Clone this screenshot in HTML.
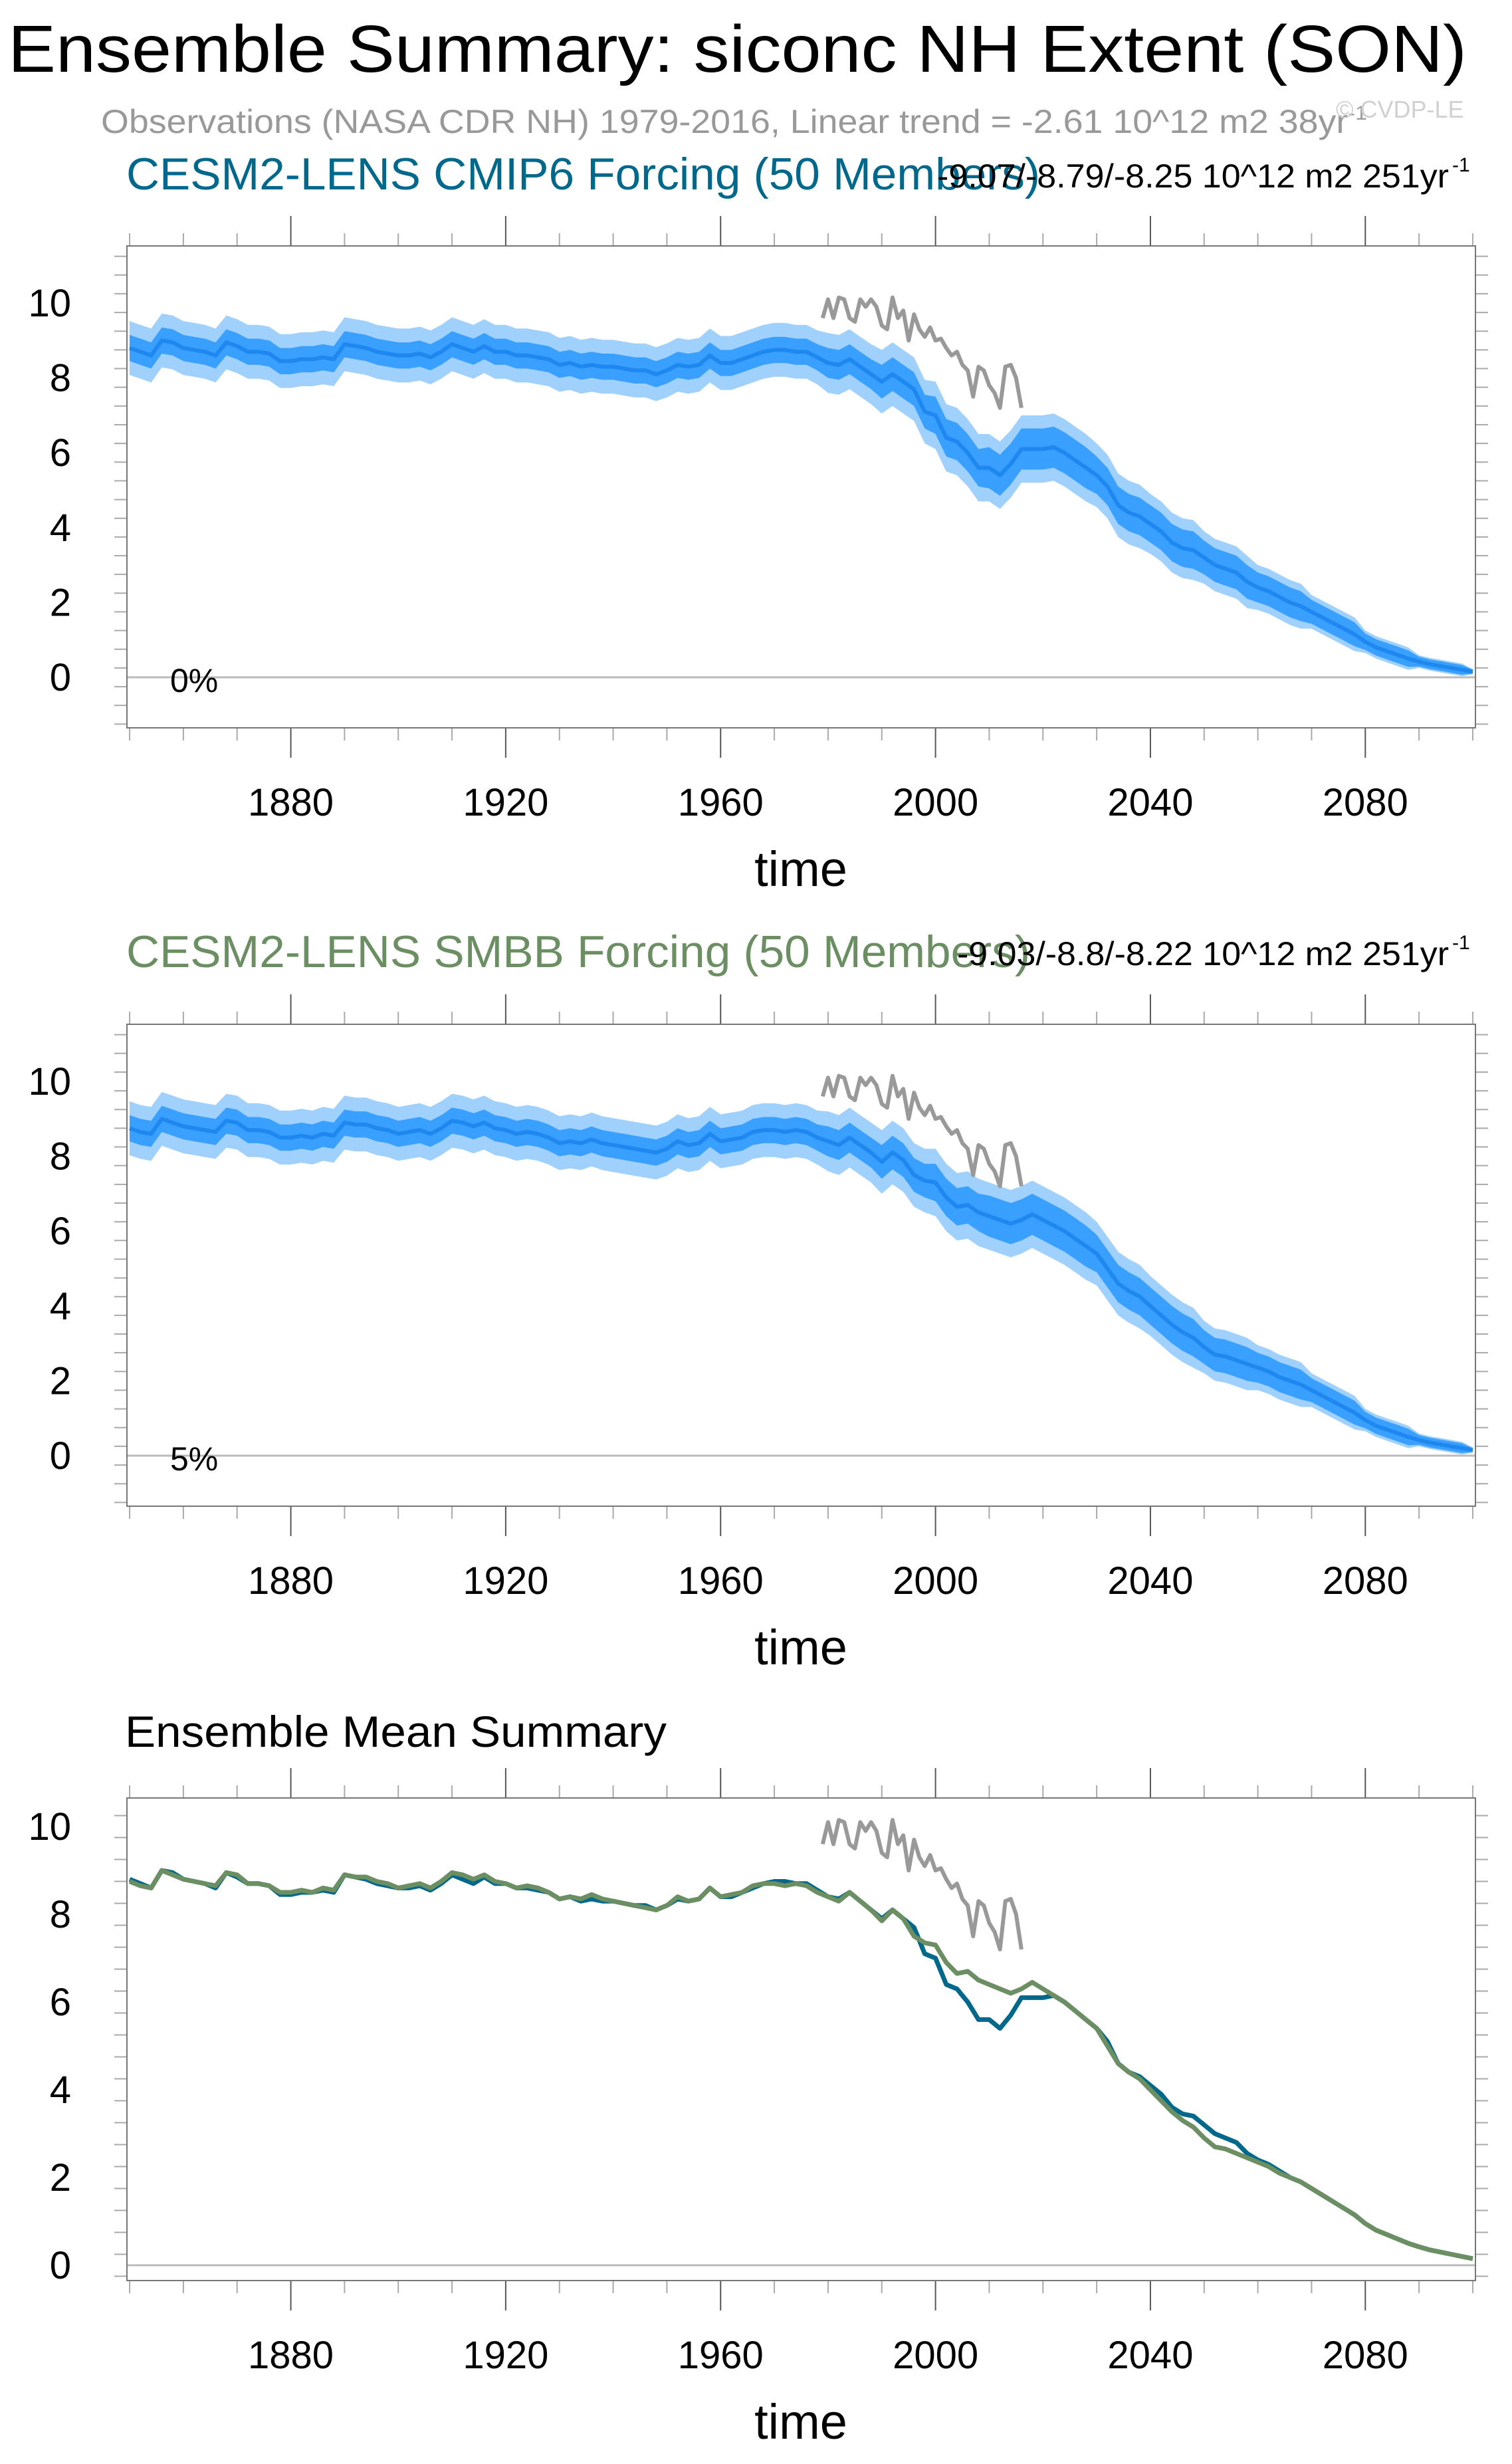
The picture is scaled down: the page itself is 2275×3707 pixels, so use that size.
<!DOCTYPE html>
<html><head><meta charset="utf-8">
<style>
html,body{margin:0;padding:0;background:#fff;}
svg{display:block;font-family:"Liberation Sans",sans-serif;}
</style></head>
<body>
<svg id="chart" width="2275" height="3707" viewBox="0 0 2275 3707" xmlns="http://www.w3.org/2000/svg">
<text x="12" y="108" font-size="100" textLength="2195" lengthAdjust="spacingAndGlyphs">Ensemble Summary: siconc NH Extent (SON)</text>
<text x="152" y="200" font-size="50" fill="#999" textLength="1905" lengthAdjust="spacingAndGlyphs">Observations (NASA CDR NH) 1979-2016, Linear trend = -2.61 10^12 m2 38yr<tspan dy="-20" font-size="30">-1</tspan></text>
<text x="2010" y="177" font-size="36" fill="#d0d0d0">© CVDP-LE</text>
<text x="190" y="285" font-size="68" fill="#00688b" textLength="1375" lengthAdjust="spacingAndGlyphs">CESM2-LENS CMIP6 Forcing (50 Members)</text>
<text x="1410" y="282" font-size="50" textLength="770" lengthAdjust="spacingAndGlyphs">-9.07/-8.79/-8.25 10^12 m2 251yr</text>
<text x="2185" y="258" font-size="30">-1</text>
<text x="190" y="1455" font-size="68" fill="#6b8e63" textLength="1360" lengthAdjust="spacingAndGlyphs">CESM2-LENS SMBB Forcing (50 Members)</text>
<text x="1440" y="1452" font-size="50" textLength="740" lengthAdjust="spacingAndGlyphs">-9.03/-8.8/-8.22 10^12 m2 251yr</text>
<text x="2185" y="1428" font-size="30">-1</text>
<text x="188" y="2628" font-size="66" textLength="815" lengthAdjust="spacingAndGlyphs">Ensemble Mean Summary</text>
<g id="panels"></g>
</svg>
<script>
const years2 = [];
for (let y = 1850; y <= 2100; y += 2) years2.push(y);
const cmip6Mean = [8.8,8.7,8.6,9.0,8.95,8.8,8.75,8.7,8.6,8.95,8.85,8.7,8.7,8.65,8.45,8.45,8.5,8.5,8.55,8.5,8.9,8.85,8.8,8.7,8.65,8.6,8.6,8.65,8.55,8.7,8.9,8.8,8.7,8.85,8.7,8.7,8.6,8.6,8.55,8.5,8.35,8.4,8.3,8.35,8.3,8.3,8.25,8.2,8.2,8.1,8.2,8.35,8.3,8.35,8.6,8.4,8.4,8.5,8.6,8.7,8.75,8.75,8.7,8.7,8.55,8.4,8.35,8.5,8.3,8.1,7.9,8.1,7.9,7.7,7.1,7.0,6.4,6.3,6.0,5.6,5.6,5.4,5.7,6.1,6.1,6.1,6.15,6.0,5.8,5.6,5.4,5.1,4.6,4.4,4.3,4.1,3.9,3.6,3.45,3.4,3.2,3.0,2.9,2.8,2.55,2.4,2.3,2.15,2.0,1.9,1.75,1.6,1.45,1.3,1.15,0.95,0.8,0.7,0.6,0.5,0.42,0.35,0.3,0.25,0.2,0.15];
const smbbMean = [8.75,8.65,8.6,9.0,8.9,8.8,8.75,8.7,8.65,8.95,8.9,8.7,8.7,8.65,8.5,8.5,8.55,8.5,8.6,8.55,8.9,8.85,8.85,8.75,8.7,8.6,8.65,8.7,8.6,8.75,8.95,8.9,8.8,8.9,8.75,8.7,8.6,8.65,8.6,8.5,8.35,8.4,8.35,8.45,8.35,8.3,8.25,8.2,8.15,8.1,8.2,8.4,8.3,8.35,8.6,8.4,8.45,8.5,8.65,8.7,8.7,8.65,8.7,8.65,8.5,8.4,8.3,8.5,8.3,8.1,7.85,8.1,7.9,7.5,7.35,7.3,6.9,6.65,6.7,6.5,6.4,6.3,6.2,6.3,6.45,6.3,6.15,6.0,5.8,5.6,5.4,5.0,4.6,4.4,4.25,4.0,3.75,3.5,3.3,3.15,2.9,2.7,2.65,2.55,2.45,2.35,2.25,2.1,2.0,1.9,1.75,1.6,1.45,1.3,1.15,0.95,0.8,0.7,0.6,0.5,0.42,0.35,0.3,0.25,0.2,0.15];
const obsYears = [];
for (let y = 1979; y <= 2016; y++) obsYears.push(y);
const obsValues = [9.6,10.1,9.6,10.15,10.1,9.6,9.5,10.1,9.9,10.1,9.9,9.4,9.3,10.15,9.6,9.8,9.0,9.7,9.3,9.1,9.35,9.0,9.05,8.8,8.6,8.7,8.35,8.2,7.5,8.3,8.2,7.8,7.6,7.2,8.3,8.35,8.0,7.2];
// per-decade ensemble spread (half-widths), 1850..2100
const innerSpread = [0.35,0.35,0.35,0.35,0.35,0.35,0.35,0.35,0.35,0.35,0.35,0.35,0.35,0.4,0.45,0.5,0.55,0.55,0.5,0.5,0.45,0.4,0.32,0.22,0.13,0.05];
const outerSpread = [0.72,0.72,0.72,0.72,0.72,0.72,0.72,0.72,0.72,0.72,0.72,0.72,0.72,0.8,0.85,0.9,0.9,0.9,0.85,0.8,0.7,0.6,0.45,0.3,0.17,0.07];
const xTickYears = [1880,1920,1960,2000,2040,2080];
const yTickValues = [0,2,4,6,8,10];

const NS = 'http://www.w3.org/2000/svg';
const root = document.getElementById('panels');
const X0 = 191, X1 = 2220, YMIN = 1849.5, YMAX = 2100.5;
function xs(yr){ return X0 + (yr - YMIN) / (YMAX - YMIN) * (X1 - X0); }
function mk(tag, attrs, parent){ const e = document.createElementNS(NS, tag); for (const k in attrs) e.setAttribute(k, attrs[k]); (parent||root).appendChild(e); return e; }

const panels = [
 {top:370, bot:1095, y0:1019, unit:56.3, vmin:-1.35, vmax:11.5, kind:'band', mean:cmip6Mean, label:'0%', name:'cmip6'},
 {top:1541, bot:2266, y0:2190, unit:56.3, vmin:-1.35, vmax:11.5, kind:'band', mean:smbbMean, label:'5%', name:'smbb'},
 {top:2705, bot:3431, y0:3408, unit:66, vmin:-0.35, vmax:10.65, kind:'mean', name:'mean-summary'}
];

panels.forEach(p => {
  const g = mk('g', {});
  
  
  const ys = v => p.y0 - v * p.unit;
  for (let v = Math.ceil(p.vmin*4)/4; v <= p.vmax; v += 0.5) {
    const major = Math.abs(v % 2) < 1e-6;
    const len = major ? 45 : 19;
    const c = major ? '#555' : '#aaa';
    mk('line', {x1:X0-len, x2:X0, y1:ys(v), y2:ys(v), stroke:c, 'stroke-width':2}, g);
    mk('line', {x1:X1, x2:X1+len, y1:ys(v), y2:ys(v), stroke:c, 'stroke-width':2}, g);
  }
  yTickValues.forEach(v => {
    const t = mk('text', {x:107, y:ys(v)+20, 'font-size':58, 'text-anchor':'end'}, g);
    
    
    t.textContent = v;
  });
  for (let yr = 1850; yr <= 2100; yr += 10) {
    const major = xTickYears.includes(yr);
    const len = major ? 45 : 19;
    const c = major ? '#555' : '#aaa';
    mk('line', {x1:xs(yr), x2:xs(yr), y1:p.bot, y2:p.bot+len, stroke:c, 'stroke-width':2}, g);
    mk('line', {x1:xs(yr), x2:xs(yr), y1:p.top-len, y2:p.top, stroke:c, 'stroke-width':2}, g);
  }
  xTickYears.forEach(yr => {
    const t = mk('text', {x:xs(yr), y:p.bot+132, 'font-size':58, 'text-anchor':'middle'}, g);
    
    
    t.textContent = yr;
  });
  const xt = mk('text', {x:1205, y:p.bot+238, 'font-size':74, 'text-anchor':'middle'}, g);
  
  
  xt.textContent = 'time';
  const zl = mk('line', {x1:X0, x2:X1, y1:ys(0), y2:ys(0), stroke:'#bbb', 'stroke-width':3}, g);
  
  

  const path = arr => arr.map((v,i) => (i? 'L':'M') + xs(years2[i]).toFixed(1) + ',' + ys(v).toFixed(1)).join('');
  if (p.kind === 'band') {
    const bandPath = sp => {
      const up = p.mean.map((v,i) => (i?'L':'M') + xs(years2[i]).toFixed(1) + ',' + ys(v + sp[Math.min(25, Math.floor((years2[i]-1850)/10))]).toFixed(1));
      const dn = p.mean.map((v,i) => 'L' + xs(years2[i]).toFixed(1) + ',' + ys(Math.max(0.03, v - sp[Math.min(25, Math.floor((years2[i]-1850)/10))])).toFixed(1)).reverse();
      return up.join('') + dn.join('') + 'Z';
    };
    const ob = mk('path', {d:bandPath(outerSpread), fill:'#a0d0fc'}, g);
    
    
    const ib = mk('path', {d:bandPath(innerSpread), fill:'#3aa0ff'}, g);
    
    
    const ml = mk('path', {d:path(p.mean), fill:'none', stroke:'#1e88f0', 'stroke-width':6, 'stroke-linejoin':'round'}, g);
    
    
    const pl = mk('text', {x:256, y:p.y0+22, 'font-size':50}, g);
    
    
    pl.textContent = p.label;
  } else {
    const l1 = mk('path', {d:path(cmip6Mean), fill:'none', stroke:'#00688b', 'stroke-width':7, 'stroke-linejoin':'round'}, g);
    
    
    const l2 = mk('path', {d:path(smbbMean), fill:'none', stroke:'#6b8e63', 'stroke-width':7, 'stroke-linejoin':'round'}, g);
    
    
  }
  const od = obsValues.map((v,i) => (i?'L':'M') + xs(obsYears[i]).toFixed(1) + ',' + ys(v).toFixed(1)).join('');
  const ol = mk('path', {d:od, fill:'none', stroke:'#999', 'stroke-width':6, 'stroke-linejoin':'round'}, g);
  
  
  const fr = mk('rect', {x:X0, y:p.top, width:X1-X0, height:p.bot-p.top, fill:'none', stroke:'#777', 'stroke-width':2}, g);
  
  
});
</script>
</body></html>
